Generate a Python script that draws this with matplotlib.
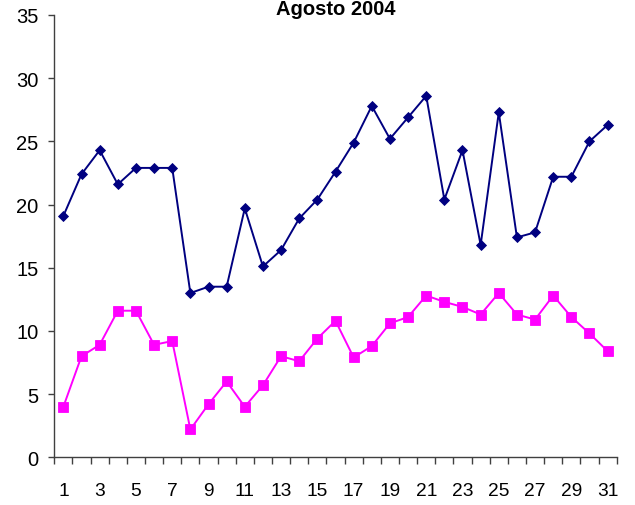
import matplotlib
matplotlib.use("Agg")
import matplotlib.pyplot as plt
import numpy as np

plt.rcParams['font.family'] = ['Liberation Sans', 'DejaVu Sans']

days = list(range(1, 32))
serie_max = [19.1, 22.4, 24.3, 21.6, 22.9, 22.9, 22.9, 13.0, 13.5, 13.5,
             19.7, 15.1, 16.4, 18.9, 20.4, 22.6, 24.9, 27.8, 25.2, 26.9,
             28.6, 20.4, 24.3, 16.8, 27.3, 17.4, 17.8, 22.2, 22.2, 25.0, 26.3]
serie_min = [4.0, 8.0, 8.9, 11.6, 11.6, 8.9, 9.2, 2.2, 4.2, 6.0,
             4.0, 5.7, 8.0, 7.6, 9.4, 10.8, 7.9, 8.8, 10.6, 11.1,
             12.8, 12.3, 11.9, 11.3, 13.0, 11.3, 10.9, 12.8, 11.1, 9.8, 8.4]
yticks = [0, 5, 10, 15, 20, 25, 30, 35]
xtick_labels = [str(d) for d in days if d % 2 == 1]
title = "Agosto 2004"

W, H = 635, 506
fig = plt.figure(figsize=(W / 100, H / 100), dpi=100)
ax = fig.add_axes([54.3 / W, 1 - 458.3 / H, (616.7 - 54.3) / W, (458.3 - 16) / H])

ax.plot(days, serie_max, color='#000080', lw=1.4, marker='D', ms=5.2,
        mec='#000080', mfc='#000080', mew=0.6, clip_on=False, zorder=3)
ax.plot(days, serie_min, color='#FF00FF', lw=1.4, marker='s', ms=7.2,
        mec='#FF00FF', mfc='#FF00FF', mew=0.6, clip_on=False, zorder=3)

ax.set_xlim(0.5, 31.5)
ax.set_ylim(0, 35)
ax.set_yticks(yticks)
ax.set_xticks([d for d in days if d % 2 == 1])
ax.set_xticklabels(xtick_labels)
ax.set_xticks(np.arange(0.5, 32, 1), minor=True)

for s in ['top', 'right']:
    ax.spines[s].set_visible(False)
for s in ['left', 'bottom']:
    ax.spines[s].set_color('#404040')
    ax.spines[s].set_linewidth(1.0)

ax.tick_params(axis='y', which='major', length=4.3, width=1.0, color='#404040',
               pad=7.0, labelsize=14.5, labelcolor='black')
ax.tick_params(axis='x', which='major', length=0, pad=18.0, labelsize=13.8,
               labelcolor='black')
ax.tick_params(axis='x', which='minor', length=5.0, width=1.0, color='#404040')

fig.text(336 / W, 1 - 15 / H, title, ha='center', va='baseline',
         fontsize=14.5, fontweight='bold')

fig.savefig('out.png', dpi=100)
